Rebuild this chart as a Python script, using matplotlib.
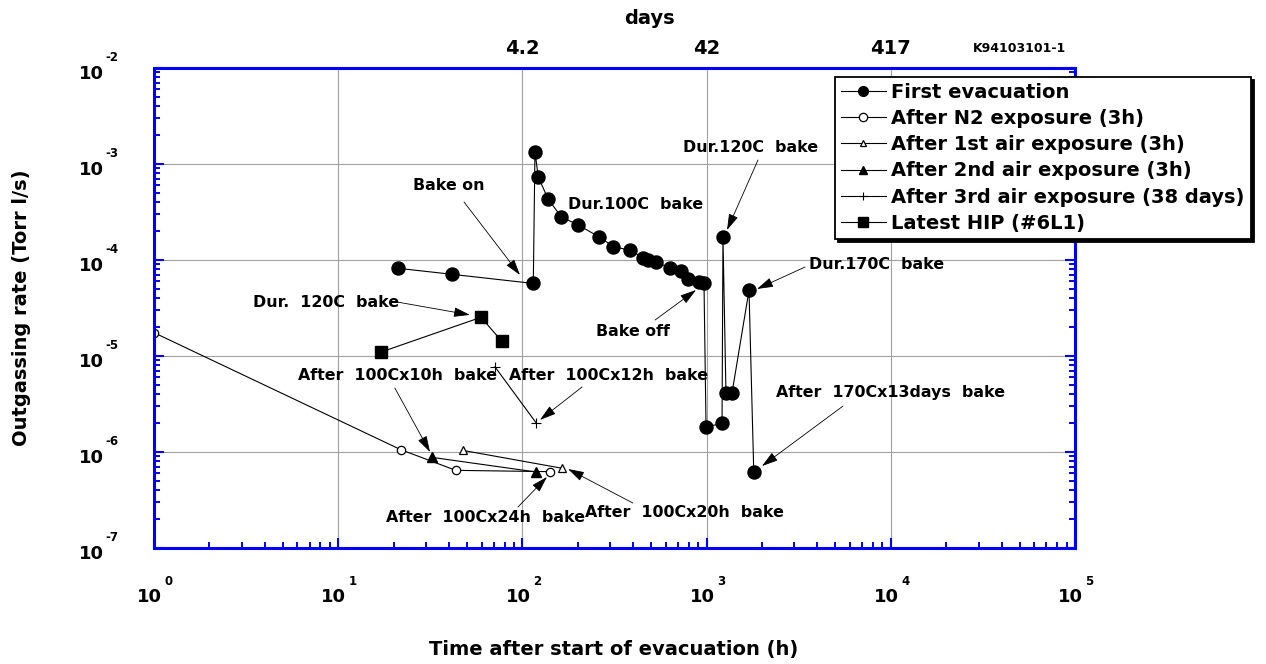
import matplotlib
matplotlib.use('Agg')
import matplotlib.pyplot as plt

plt.rcParams['font.family'] = ['DejaVu Sans']
plt.rcParams['font.weight'] = 'bold'

# ---- data (hours, Torr l/s)
first_t = [21.1, 41.3, 114.6, 117, 122, 138, 163, 200, 261, 312, 384, 453, 483, 531,
           633, 723, 795, 906, 968, 993, 1213, 1227, 1274, 1373, 1699, 1803]
first_q = [8.2e-5, 7.1e-5, 5.7e-5, 1.34e-3, 7.3e-4, 4.3e-4, 2.8e-4, 2.33e-4, 1.74e-4,
           1.38e-4, 1.26e-4, 1.06e-4, 9.9e-5, 9.5e-5, 8.3e-5, 7.6e-5, 6.4e-5, 5.9e-5,
           5.7e-5, 1.82e-6, 1.99e-6, 1.75e-4, 4.08e-6, 4.08e-6, 4.83e-5, 6.24e-7]
n2_t = [1.0, 21.8, 43.5, 142]
n2_q = [1.75e-5, 1.06e-6, 6.44e-7, 6.24e-7]
air1_t = [47.4, 165]
air1_q = [1.04e-6, 6.76e-7]
air2_t = [32.2, 118]
air2_q = [8.8e-7, 6.2e-7]
air3_t = [71, 119]
air3_q = [7.7e-6, 2.0e-6]
hip_t = [17.1, 59.6, 77.2]
hip_q = [1.1e-5, 2.53e-5, 1.43e-5]

x_exps = [0, 1, 2, 3, 4, 5]
y_exps = [-2, -3, -4, -5, -6, -7]
top_hours = [100, 1000, 10000]
top_days = ['4.2', '42', '417']

# label, text pos, arrow tail, arrow tip
notes = [
    ('Bake on', (40, 5.9e-4), (48.2, 4.02e-4), (97, 6.98e-5)),
    ('Dur.100C  bake', (414, 3.83e-4), None, None),
    ('Dur.120C  bake', (1742, 1.47e-3), (1901, 1.10e-3), (1291, 2.05e-4)),
    ('Dur.170C  bake', (8414, 9.08e-5), (3422, 8.45e-5), (1878, 4.99e-5)),
    ('Bake off', (398, 1.78e-5), (525, 2.37e-5), (876, 4.87e-5)),
    ('Dur.  120C  bake', (8.59, 3.65e-5), (20.9, 3.65e-5), (51.9, 2.68e-5)),
    ('After  100Cx10h  bake', (21.1, 6.19e-6), (20.3, 4.64e-6), (31.5, 1.0e-6)),
    ('After  100Cx12h  bake', (295, 6.19e-6), (211, 4.76e-6), (124.6, 2.16e-6)),
    ('After  170Cx13days  bake', (10020, 4.12e-6), (5502, 3.01e-6), (1999, 7.14e-7)),
    ('After  100Cx24h  bake', (62.7, 2.10e-7), (94.6, 2.67e-7), (136, 5.5e-7)),
    ('After  100Cx20h  bake', (754, 2.37e-7), (398, 2.94e-7), (176.9, 6.65e-7)),
]

fig = plt.figure(figsize=(12.66, 6.64), dpi=100)
ax = fig.add_axes([154/1266, 1-548/664, 921/1266, 480/664])
ax.set_xscale('log')
ax.set_yscale('log')
ax.set_xlim(1, 1e5)
ax.set_ylim(1e-7, 1e-2)

lw = 0.8
ax.plot(first_t, first_q, 'k-', lw=lw, marker='o', ms=9.4, mfc='k', label='First evacuation')
ax.plot(n2_t, n2_q, 'k-', lw=lw, marker='o', ms=6, mfc='white', mew=0.9, label='After N2 exposure (3h)')
ax.plot(air1_t, air1_q, 'k-', lw=lw, marker='^', ms=6, mfc='white', mew=0.9, label='After 1st air exposure (3h)')
ax.plot(air2_t, air2_q, 'k-', lw=lw, marker='^', ms=6.5, mfc='k', label='After 2nd air exposure (3h)')
ax.plot(air3_t, air3_q, 'k-', lw=lw, marker='+', ms=7, mew=0.8, label='After 3rd air exposure (38 days)')
ax.plot(hip_t, hip_q, 'k-', lw=lw, marker='s', ms=8.5, mfc='k', label='Latest HIP (#6L1)')

for lab, tpos, tail, tip in notes:
    ax.text(tpos[0], tpos[1], lab, ha='center', va='center', fontsize=11.4)
    if tail is not None:
        ax.annotate('', xy=tip, xytext=tail,
                    arrowprops=dict(arrowstyle='-|>,head_length=1.0,head_width=0.3',
                                    color='k', lw=0.6, shrinkA=0, shrinkB=0,
                                    mutation_scale=10))

# axes styling
for s in ax.spines.values():
    s.set_color('#0000ff')
    s.set_linewidth(2.2)
ax.tick_params(which='both', direction='in', color='#0000ff', top=True, right=True,
               labelbottom=False, labelleft=False)
ax.tick_params(which='major', length=7, width=1.5)
ax.tick_params(which='minor', length=4.3, width=1.4)
ax.grid(True, which='major', color='#a0a0a0', lw=0.8)
ax.set_axisbelow(True)

# tick labels drawn as 10 + raised exponent
for e in x_exps:
    ax.annotate('10', xy=(10.0**e, 0), xycoords=('data', 'axes fraction'),
                xytext=(5.8, -35), textcoords='offset points', ha='right', va='center',
                fontsize=13, annotation_clip=False)
    ax.annotate(str(e), xy=(10.0**e, 0), xycoords=('data', 'axes fraction'),
                xytext=(7.5, -24), textcoords='offset points', ha='left', va='center',
                fontsize=8.5, annotation_clip=False)
for e in y_exps:
    ax.annotate('10', xy=(0, 10.0**e), xycoords=('axes fraction', 'data'),
                xytext=(-36, -4), textcoords='offset points', ha='right', va='center',
                fontsize=13, annotation_clip=False)
    ax.annotate(str(e), xy=(0, 10.0**e), xycoords=('axes fraction', 'data'),
                xytext=(-35, 7.2), textcoords='offset points', ha='left', va='center',
                fontsize=8.5, annotation_clip=False)

# top axis in days
ax2 = ax.twiny()
ax2.set_xscale('log')
ax2.set_xlim(ax.get_xlim())
ax2.set_xticks(top_hours)
ax2.set_xticklabels(top_days, fontsize=14, fontweight='bold')
ax2.tick_params(which='both', length=0, pad=7)
for s in ax2.spines.values():
    s.set_visible(False)

fig.text(649/1266, 1-18/664, 'days', ha='center', va='center', fontsize=14)
fig.text(1019/1266, 1-49/664, 'K94103101-1', ha='center', va='center', fontsize=9)
fig.text(614/1266, 1-650/664, 'Time after start of evacuation (h)', ha='center', va='center', fontsize=14)
fig.text(22/1266, 1-308/664, 'Outgassing rate (Torr l/s)', ha='center', va='center',
         rotation=90, fontsize=14)

leg = ax.legend(loc='upper left', bbox_to_anchor=(835/1266, 1-77/664),
                bbox_transform=fig.transFigure, borderaxespad=0, fontsize=14,
                handlelength=2.3, handletextpad=0.3, labelspacing=0.37, borderpad=0.3,
                fancybox=False, framealpha=1, edgecolor='k',
                shadow={'color': 'k', 'alpha': 1, 'ox': 2.5, 'oy': -2.5})
leg.get_frame().set_linewidth(1.3)
for h, ms in zip(leg.legend_handles, [7, 6, 5, 5.5, 6, 7.5]):
    h.set_markersize(ms)

fig.savefig('out.png', dpi=100)
